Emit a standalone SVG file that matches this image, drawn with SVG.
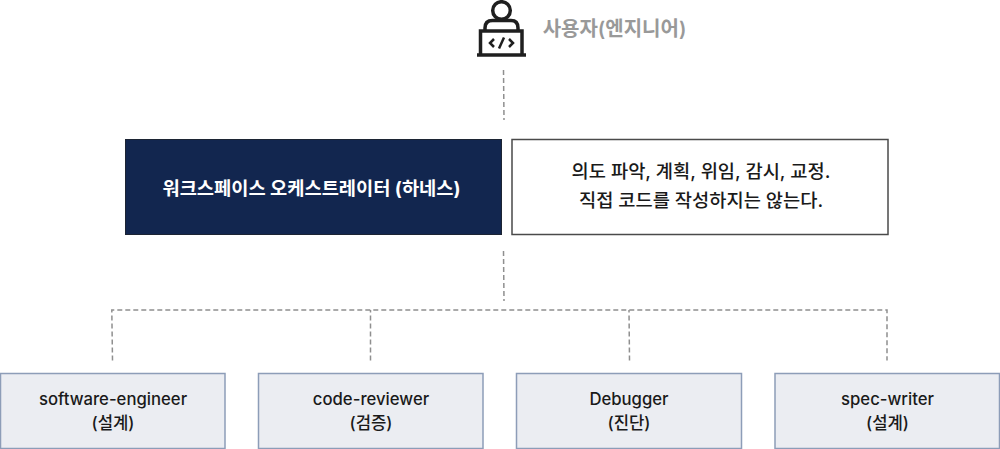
<svg xmlns="http://www.w3.org/2000/svg" width="1000" height="449" viewBox="0 0 1000 449">
<style>
text{font-family:"Inter","Noto Sans CJK KR",sans-serif;text-anchor:middle;font-weight:500;font-size:16.700px;fill:#1a1a1a}
.c{fill:none;stroke:#8f8f8f;stroke-width:1.500;stroke-dasharray:5 3}
.w{fill:#ebedf2;stroke:#8d9db8;stroke-width:1.500}
.i{fill:none;stroke:#1f1f1f;stroke-width:3.500}
</style>
<rect width="1000" height="449" fill="#fff"/>
<g id="connectors">
<path class="c" d="M503.500 70L504 120"/>
<path class="c" d="M503.500 251L504 301"/>
<path class="c" d="M112.500 360.500L111.800 310H887V360.500"/>
<path class="c" d="M370.500 360.500V310"/>
<path class="c" d="M629.500 360.500L629 310"/>
</g>
<g id="user">
<circle class="i" cx="501.500" cy="10.500" r="8.800"/>
<path class="i" d="M485 30V28Q485 20.500 492.500 20.500H511Q518 20.500 518 28V30"/>
<path class="i" d="M480.500 54V31H522V54"/>
<path d="M477 55H526" stroke="#1f1f1f" stroke-width="3.500" fill="none"/>
<path d="M494 39L490 43L494 47M509 39L513 43L509 47M504 37.500L499 48.500" fill="none" stroke="#1f1f1f" stroke-width="2.500"/>
<text x="614.500" y="36" style="font-size:20px;font-weight:600;fill:#999">사용자(엔지니어)</text>
</g>
<g id="orchestrator">
<rect x="125.500" y="139.500" width="376" height="95" fill="#12264f" stroke="#1c2433" stroke-width="1"/>
<text x="311.500" y="194.500" style="font-weight:700;font-size:18.700px;fill:#fff">워크스페이스 오케스트레이터 (하네스)</text>
</g>
<g id="note">
<rect x="512" y="139.500" width="376" height="95" fill="#fff" stroke="#4a4a4a" stroke-width="1.500"/>
<text x="701" y="177.500" style="font-size:18.700px">의도 파악, 계획, 위임, 감시, 교정.</text>
<text x="701" y="206.500" style="font-size:18.700px">직접 코드를 작성하지는 않는다.</text>
</g>
<g id="software-engineer">
<rect class="w" x="0.500" y="373.500" width="224.500" height="75"/>
<text x="113" y="404.500">software-engineer</text><text x="113" y="428.500">(설계)</text>
</g>
<g id="code-reviewer">
<rect class="w" x="258.500" y="373.500" width="224.500" height="75"/>
<text x="371" y="404.500">code-reviewer</text><text x="371" y="428.500">(검증)</text>
</g>
<g id="debugger">
<rect class="w" x="516.500" y="373.500" width="225" height="75"/>
<text x="629" y="404.500">Debugger</text><text x="629" y="428.500">(진단)</text>
</g>
<g id="spec-writer">
<rect class="w" x="775" y="373.500" width="224.500" height="75"/>
<text x="887.500" y="404.500">spec-writer</text><text x="887.500" y="428.500">(설계)</text>
</g>
</svg>
